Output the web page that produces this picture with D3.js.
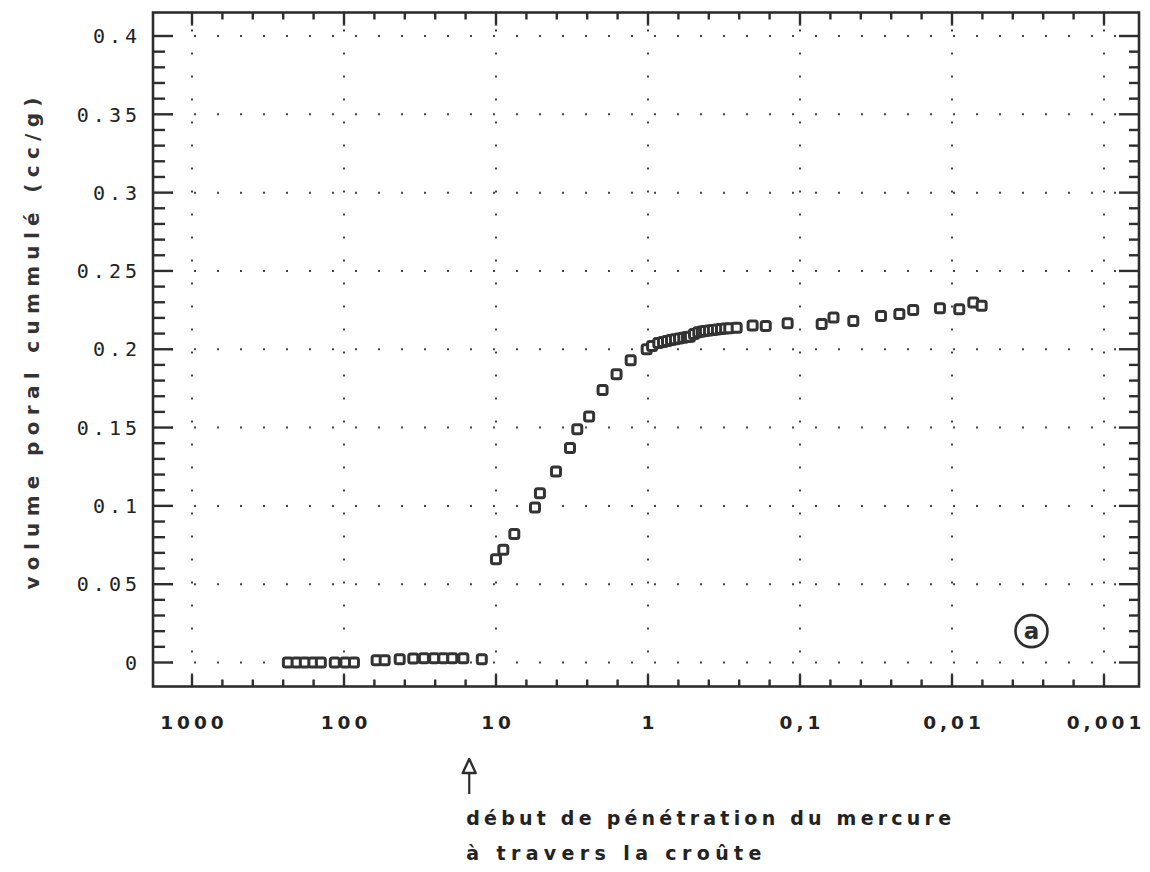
<!DOCTYPE html>
<html>
<head>
<meta charset="utf-8">
<script src="https://cdn.jsdelivr.net/npm/d3@7"></script>
<style>
  body { margin: 0; background: #fff; }
  svg { display: block; }
</style>
</head>
<body>
<svg id="chart"></svg>
<script>
// pore diameter (µm, decreasing) vs cumulative pore volume (cc/g)
const poreDiameter = [
  234, 205, 181, 159, 142, 115, 98, 86, 61, 54, 43, 35, 29.8, 25.5, 22.2, 19.4, 16.4, 12.4,
  10.0, 8.95, 7.58, 5.54, 5.14, 4.03, 3.26, 2.92, 2.44, 1.99, 1.61, 1.30, 1.02,
  0.94, 0.855, 0.797, 0.750, 0.706, 0.665, 0.625, 0.586, 0.554, 0.530, 0.498, 0.467,
  0.442, 0.422, 0.397, 0.374, 0.352, 0.331, 0.311, 0.292, 0.261,
  0.205, 0.168, 0.1206, 0.0720, 0.0602, 0.0446, 0.0293, 0.0222, 0.0180, 0.0120,
  0.00896, 0.00724, 0.00638
];
const cumVolume = [
  0.000, 0.000, 0.000, 0.000, 0.000, 0.000, 0.000, 0.000, 0.0015, 0.0015, 0.0020, 0.0025,
  0.0027, 0.0027, 0.0027, 0.0027, 0.0027, 0.0020,
  0.066, 0.072, 0.082, 0.099, 0.108, 0.122, 0.137, 0.149, 0.157, 0.174, 0.184, 0.193, 0.200,
  0.202, 0.204, 0.2047, 0.2053, 0.2059, 0.2064, 0.2069, 0.2074, 0.2079, 0.2080, 0.2098, 0.2109,
  0.2114, 0.2117, 0.2120, 0.2123, 0.2126, 0.2130, 0.2132, 0.2134, 0.2138,
  0.2151, 0.2149, 0.2166, 0.2162, 0.2202, 0.2181, 0.2213, 0.2225, 0.2251, 0.2262,
  0.2255, 0.2298, 0.2277
];

const xTickValues = [1000, 100, 10, 1, 0.1, 0.01, 0.001];
const xTickLabels = ['1000', '100', '10', '1', '0,1', '0,01', '0,001'];
const yTickValues = [0, 0.05, 0.1, 0.15, 0.2, 0.25, 0.3, 0.35, 0.4];
const yTickLabels = ['0', '0.05', '0.1', '0.15', '0.2', '0.25', '0.3', '0.35', '0.4'];
const yTitle = 'volume poral cummulé (cc/g)';
const noteLines = ['début de pénétration du mercure', 'à travers la croûte'];
const arrowAt = 15;   // pore diameter where mercury starts to penetrate
const panelTag = 'a';

// Setup
const width = 1150,
      height = 872;
const ink = '#2e2e2e';

const svg = d3.select('#chart')
  .attr('width', width)
  .attr('height', height);

const x = d3.scaleLog()
  .domain([1000, 0.001])
  .range([192, 1104]);

const y = d3.scaleLinear()
  .domain([0, 0.4])
  .range([662.5, 36]);

const frame = { left: 153, right: 1139, top: 12.5, bottom: 686.5 };

// Grid (dotted)
const grid = svg.append('g')
  .attr('stroke', '#444')
  .attr('stroke-width', 2)
  .attr('stroke-dasharray', '2 21');

grid.selectAll('line.h')
  .data(yTickValues)
  .enter().append('line')
  .attr('class', 'h')
  .attr('x1', frame.left + 18).attr('x2', frame.right - 4)
  .attr('y1', d => y(d)).attr('y2', d => y(d));

grid.selectAll('line.v')
  .data(xTickValues)
  .enter().append('line')
  .attr('class', 'v')
  .attr('x1', d => x(d)).attr('x2', d => x(d))
  .attr('y1', frame.top + 17).attr('y2', frame.bottom - 4);

// Frame
svg.append('rect')
  .attr('x', frame.left).attr('y', frame.top)
  .attr('width', frame.right - frame.left)
  .attr('height', frame.bottom - frame.top)
  .attr('fill', 'none')
  .attr('stroke', ink)
  .attr('stroke-width', 2.6);

// Ticks: inward on all four sides
const xMinor = d3.range(0, 31).map(k => Math.pow(10, 3 - k * 0.2));
const isDecade = d => Math.abs(Math.log10(d) - Math.round(Math.log10(d))) < 1e-6;
const yMinor = d3.range(0, 41).map(k => k / 100);
const isMajorY = d => Math.abs(d * 20 - Math.round(d * 20)) < 1e-6;

const ticks = svg.append('g')
  .attr('stroke', ink)
  .attr('stroke-width', 2.4);

ticks.selectAll('line.b')
  .data(xMinor)
  .enter().append('line')
  .attr('x1', d => x(d)).attr('x2', d => x(d))
  .attr('y1', frame.bottom).attr('y2', d => frame.bottom - (isDecade(d) ? 12 : 7));

ticks.selectAll('line.t')
  .data(xMinor)
  .enter().append('line')
  .attr('x1', d => x(d)).attr('x2', d => x(d))
  .attr('y1', frame.top).attr('y2', d => frame.top + (isDecade(d) ? 13 : 7));

ticks.selectAll('line.l')
  .data(yMinor)
  .enter().append('line')
  .attr('y1', d => y(d)).attr('y2', d => y(d))
  .attr('x1', frame.left).attr('x2', d => frame.left + (isMajorY(d) ? 20 : 12));

ticks.selectAll('line.r')
  .data(yMinor)
  .enter().append('line')
  .attr('y1', d => y(d)).attr('y2', d => y(d))
  .attr('x1', frame.right).attr('x2', d => frame.right - (isMajorY(d) ? 20 : 10));

// Tick labels
svg.append('g')
  .selectAll('text')
  .data(xTickValues)
  .enter().append('text')
  .attr('x', d => x(d) + 2)
  .attr('y', 729)
  .attr('text-anchor', 'middle')
  .style('font-family', '"DejaVu Sans", sans-serif')
  .style('font-weight', 'bold')
  .style('font-size', '18.5px')
  .style('letter-spacing', '4px')
  .attr('fill', '#222')
  .text((d, i) => xTickLabels[i]);

svg.append('g')
  .selectAll('text')
  .data(yTickValues)
  .enter().append('text')
  .attr('x', 141)
  .attr('y', d => y(d))
  .attr('dy', '0.36em')
  .attr('text-anchor', 'end')
  .style('font-family', '"DejaVu Sans Mono", monospace')
  .style('font-size', '20px')
  .style('letter-spacing', '4px')
  .attr('fill', '#222')
  .text((d, i) => yTickLabels[i]);

// Axis title
svg.append('text')
  .attr('transform', `translate(32, ${(frame.top + frame.bottom) / 2 - 6}) rotate(-90)`)
  .attr('text-anchor', 'middle')
  .attr('dy', '0.35em')
  .attr('textLength', 492)
  .attr('lengthAdjust', 'spacing')
  .style('font-family', '"DejaVu Sans", sans-serif')
  .style('font-weight', 'bold')
  .style('font-size', '20px')
  .attr('fill', '#333')
  .text(yTitle);

// Data points
svg.append('g')
  .selectAll('rect')
  .data(poreDiameter.map((d, i) => [d, cumVolume[i]]))
  .enter().append('rect')
  .attr('x', d => x(d[0]) - 4.5)
  .attr('y', d => y(d[1]) - 4.5)
  .attr('width', 9)
  .attr('height', 9)
  .attr('rx', 2)
  .attr('fill', '#fff')
  .attr('stroke', '#333')
  .attr('stroke-width', 3);

// Panel tag
const tag = svg.append('g')
  .attr('transform', `translate(${x(0.003)}, ${y(0.02)})`);
tag.append('circle')
  .attr('r', 16)
  .attr('fill', '#fff')
  .attr('stroke', ink)
  .attr('stroke-width', 2.6);
tag.append('text')
  .attr('text-anchor', 'middle')
  .attr('dy', '0.36em')
  .style('font-family', '"DejaVu Sans", sans-serif')
  .style('font-weight', 'bold')
  .style('font-size', '23px')
  .attr('fill', ink)
  .text(panelTag);

// Annotation arrow + note
const ax = x(arrowAt);
svg.append('path')
  .attr('d', `M${ax},759 L${ax - 6.5},773 L${ax + 6.5},773 Z`)
  .attr('fill', '#fff')
  .attr('stroke', ink)
  .attr('stroke-width', 2.4)
  .attr('stroke-linejoin', 'round');
svg.append('line')
  .attr('x1', ax).attr('x2', ax)
  .attr('y1', 773).attr('y2', 794)
  .attr('stroke', ink)
  .attr('stroke-width', 2.2);

svg.append('g')
  .selectAll('text')
  .data(noteLines)
  .enter().append('text')
  .attr('x', ax - 3)
  .attr('y', (d, i) => 825 + i * 35)
  .attr('textLength', d => d.length * 15.8 - 5)
  .attr('lengthAdjust', 'spacing')
  .style('font-family', '"DejaVu Sans", sans-serif')
  .style('font-weight', 'bold')
  .style('font-size', '19px')
  .attr('fill', '#222')
  .text(d => d);
</script>
</body>
</html>
